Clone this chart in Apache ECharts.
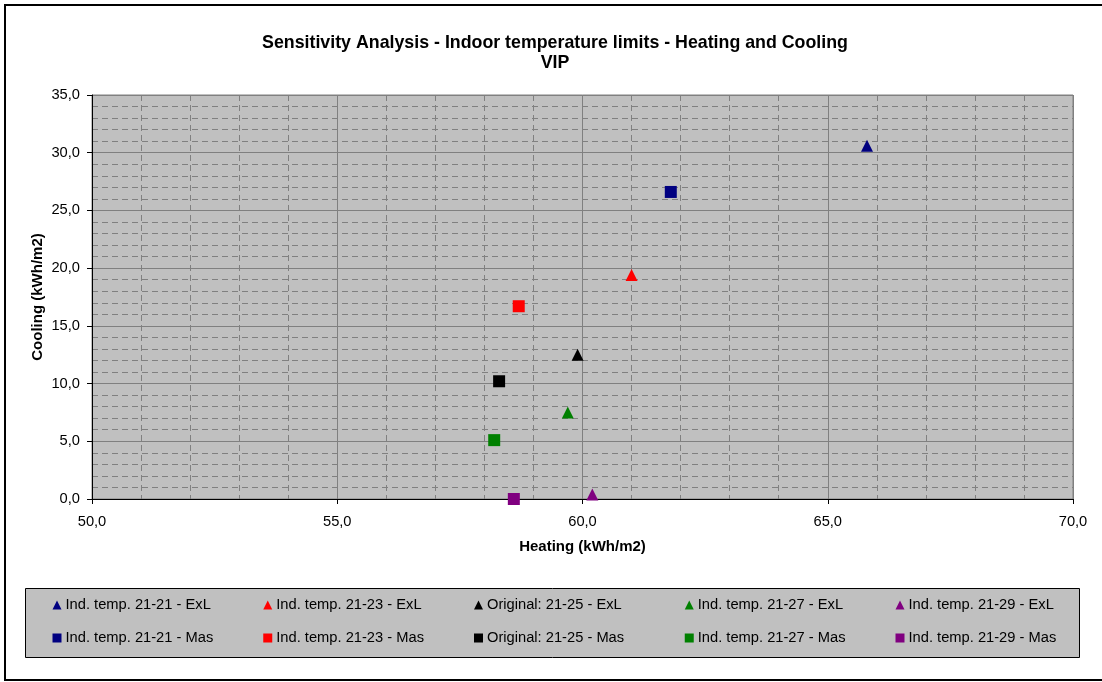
<!DOCTYPE html>
<html>
<head>
<meta charset="utf-8">
<script src="https://cdn.jsdelivr.net/npm/echarts@6/dist/echarts.min.js"></script>
<style>
html,body{margin:0;padding:0;background:#fff;}
#chart{width:1102px;height:682px;}
</style>
</head>
<body>
<div id="chart"></div>
<script>
const seriesLabels = ["Ind. temp. 21-21", "Ind. temp. 21-23", "Original: 21-25", "Ind. temp. 21-27", "Ind. temp. 21-29"];
const seriesColors = ["#000080", "#FF0000", "#000000", "#008000", "#800080"];
const heatingExL = [65.8, 61.0, 59.9, 59.7, 60.2];
const coolingExL = [30.6, 19.4, 12.5, 7.5, 0.4];
const heatingMas = [61.8, 58.7, 58.3, 58.2, 58.6];
const coolingMas = [26.6, 16.7, 10.2, 5.1, 0.0];
const xTicks = [50, 55, 60, 65, 70];
const yTicks = [0, 5, 10, 15, 20, 25, 30, 35];

const fmt = v => v.toFixed(1).replace('.', ',');
const font = 'Arial, "Liberation Sans", sans-serif';

const series = [];
const legends = [];
const colLeft = [52.5, 263.25, 474, 684.75, 895.5];
seriesLabels.forEach((lab, i) => {
  const nE = lab + " - ExL", nM = lab + " - Mas";
  series.push({
    name: nE, type: 'scatter', symbol: 'triangle', symbolSize: 12,
    itemStyle: {color: seriesColors[i], opacity: 1},
    data: [[heatingExL[i], coolingExL[i]]]
  });
  series.push({
    name: nM, type: 'scatter', symbol: 'rect', symbolSize: 12,
    itemStyle: {color: seriesColors[i], opacity: 1},
    data: [[heatingMas[i], coolingMas[i]]]
  });
  legends.push({
    orient: 'vertical', left: colLeft[i], top: 597.5,
    itemWidth: 9, itemHeight: 9, itemGap: 18, padding: 0,
    selectedMode: false,
    textStyle: {fontFamily: font, fontSize: 14.7, lineHeight: 15, color: '#000', padding: [0, 0, 0, -1]},
    data: [{name: nE, icon: 'triangle'}, {name: nM, icon: 'rect'}]
  });
});

const chart = echarts.init(document.getElementById('chart'), null, {renderer: 'canvas'});
chart.setOption({
  animation: false,
  backgroundColor: '#fff',
  title: {
    text: 'Sensitivity Analysis - Indoor temperature limits - Heating and Cooling\nVIP',
    left: 550, textAlign: 'center', top: 28,
    textStyle: {fontFamily: font, fontSize: 17.8, fontWeight: 'bold', color: '#000', lineHeight: 20}
  },
  graphic: [
    {type: 'rect', shape: {x: 5, y: 5, width: 1100, height: 675}, style: {fill: 'none', stroke: '#000', lineWidth: 2}, z: 100},
    {type: 'rect', shape: {x: 25.5, y: 588.5, width: 1054, height: 69}, style: {fill: '#C0C0C0', stroke: '#000', lineWidth: 1}, z: -1}
  ],
  legend: legends,
  grid: {left: 92, right: 29, top: 95, bottom: 183, show: true, backgroundColor: '#C0C0C0', borderColor: '#808080', borderWidth: 1},
  xAxis: {
    type: 'value', min: xTicks[0], max: xTicks[xTicks.length - 1], interval: 5,
    name: 'Heating (kWh/m2)', nameLocation: 'middle', nameGap: 40, nameMoveOverlap: false,
    nameTextStyle: {fontFamily: font, fontSize: 15, fontWeight: 'bold', color: '#000'},
    axisLine: {show: true, onZero: false, lineStyle: {color: '#000', width: 1}},
    axisTick: {show: true, inside: false, length: 5, lineStyle: {color: '#000'}},
    axisLabel: {formatter: fmt, margin: 15, fontFamily: font, fontSize: 14.7, color: '#000'},
    splitLine: {show: true, lineStyle: {color: '#808080', width: 1}},
    minorTick: {show: false, splitNumber: 5},
    minorSplitLine: {show: true, lineStyle: {color: '#808080', width: 1, type: [6, 4]}}
  },
  yAxis: {
    type: 'value', min: yTicks[0], max: yTicks[yTicks.length - 1], interval: 5,
    name: 'Cooling (kWh/m2)', nameLocation: 'middle', nameGap: 47, nameMoveOverlap: false,
    nameTextStyle: {fontFamily: font, fontSize: 15, fontWeight: 'bold', color: '#000'},
    axisLine: {show: true, onZero: false, lineStyle: {color: '#000', width: 1}},
    axisTick: {show: true, inside: false, length: 5, lineStyle: {color: '#000'}},
    axisLabel: {formatter: fmt, margin: 12, fontFamily: font, fontSize: 14.7, color: '#000'},
    splitLine: {show: true, lineStyle: {color: '#808080', width: 1}},
    minorTick: {show: false, splitNumber: 5},
    minorSplitLine: {show: true, lineStyle: {color: '#808080', width: 1, type: [6, 4]}}
  },
  series: series
});
</script>
</body>
</html>
